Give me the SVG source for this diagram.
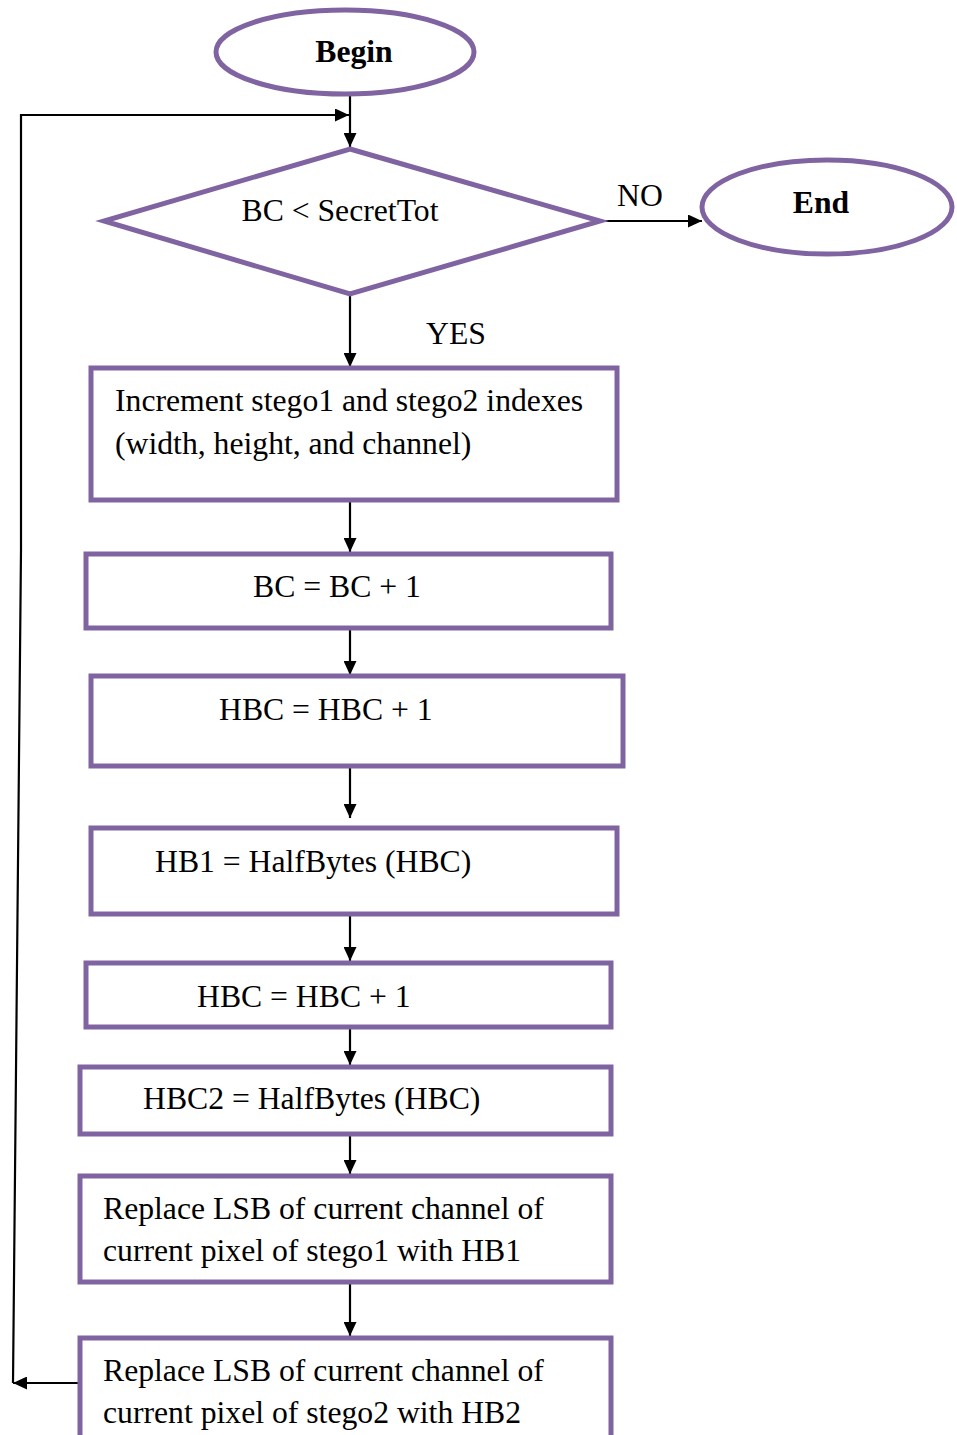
<svg xmlns="http://www.w3.org/2000/svg" width="957" height="1435" viewBox="0 0 957 1435">
<style>
.n{fill:#fff;stroke:#8064A2;stroke-width:5}
.t{font-family:"Liberation Serif","Times New Roman",serif;font-size:31.7px;fill:#000}
.b{font-weight:bold}
.c{fill:none;stroke:#000;stroke-width:2.2}
</style>
<defs>
<marker id="ah" markerWidth="14" markerHeight="13" refX="14" refY="6.5" orient="auto" markerUnits="userSpaceOnUse">
<path d="M0,0 L14,6.5 L0,13 Z" fill="#000"/>
</marker>
</defs>
<rect width="957" height="1435" fill="#fff"/>
<g id="connectors">
<line class="c" x1="350" y1="94" x2="350" y2="147" marker-end="url(#ah)"/>
<polyline class="c" points="13,1383 21,550 21,115 349,115" marker-end="url(#ah)"/>
<line class="c" x1="602" y1="221" x2="702" y2="221" marker-end="url(#ah)"/>
<line class="c" x1="350" y1="295" x2="350" y2="367" marker-end="url(#ah)"/>
<line class="c" x1="350" y1="500" x2="350" y2="552" marker-end="url(#ah)"/>
<line class="c" x1="350" y1="628" x2="350" y2="675" marker-end="url(#ah)"/>
<line class="c" x1="350" y1="766" x2="350" y2="818" marker-end="url(#ah)"/>
<line class="c" x1="350" y1="914" x2="350" y2="961" marker-end="url(#ah)"/>
<line class="c" x1="350" y1="1027" x2="350" y2="1065" marker-end="url(#ah)"/>
<line class="c" x1="350" y1="1134" x2="350" y2="1174" marker-end="url(#ah)"/>
<line class="c" x1="350" y1="1282" x2="350" y2="1336" marker-end="url(#ah)"/>
<line class="c" x1="80" y1="1383" x2="13" y2="1383" marker-end="url(#ah)"/>
<text class="t" x="617" y="206">NO</text>
<text class="t" x="426" y="344">YES</text>
</g>
<g id="begin">
<ellipse class="n" cx="345" cy="52" rx="129" ry="42"/>
<text class="t b" x="354" y="62" text-anchor="middle">Begin</text>
</g>
<g id="decision">
<polygon class="n" points="350,149 600,221 350,294 104,221"/>
<text class="t" x="340" y="221" text-anchor="middle">BC &lt; SecretTot</text>
</g>
<g id="end">
<ellipse class="n" cx="827" cy="207" rx="125" ry="47"/>
<text class="t b" x="821" y="213" text-anchor="middle">End</text>
</g>
<g id="box1">
<rect class="n" x="91" y="368" width="526" height="132"/>
<text class="t" x="115" y="411">Increment stego1 and stego2 indexes</text>
<text class="t" x="115" y="454">(width, height, and channel)</text>
</g>
<g id="box2">
<rect class="n" x="86" y="554" width="525" height="74"/>
<text class="t" x="337" y="597" text-anchor="middle">BC = BC + 1</text>
</g>
<g id="box3">
<rect class="n" x="91" y="676" width="532" height="90"/>
<text class="t" x="219" y="720">HBC = HBC + 1</text>
</g>
<g id="box4">
<rect class="n" x="91" y="828" width="526" height="86"/>
<text class="t" x="155" y="872">HB1 = HalfBytes (HBC)</text>
</g>
<g id="box5">
<rect class="n" x="86" y="963" width="525" height="64"/>
<text class="t" x="197" y="1007">HBC = HBC + 1</text>
</g>
<g id="box6">
<rect class="n" x="80" y="1067" width="531" height="67"/>
<text class="t" x="143" y="1109">HBC2 = HalfBytes (HBC)</text>
</g>
<g id="box7">
<rect class="n" x="80" y="1176" width="531" height="106"/>
<text class="t" x="103" y="1219">Replace LSB of current channel of</text>
<text class="t" x="103" y="1261">current pixel of stego1 with HB1</text>
</g>
<g id="box8">
<rect class="n" x="80" y="1338" width="531" height="120"/>
<text class="t" x="103" y="1381">Replace LSB of current channel of</text>
<text class="t" x="103" y="1423">current pixel of stego2 with HB2</text>
</g>
</svg>
